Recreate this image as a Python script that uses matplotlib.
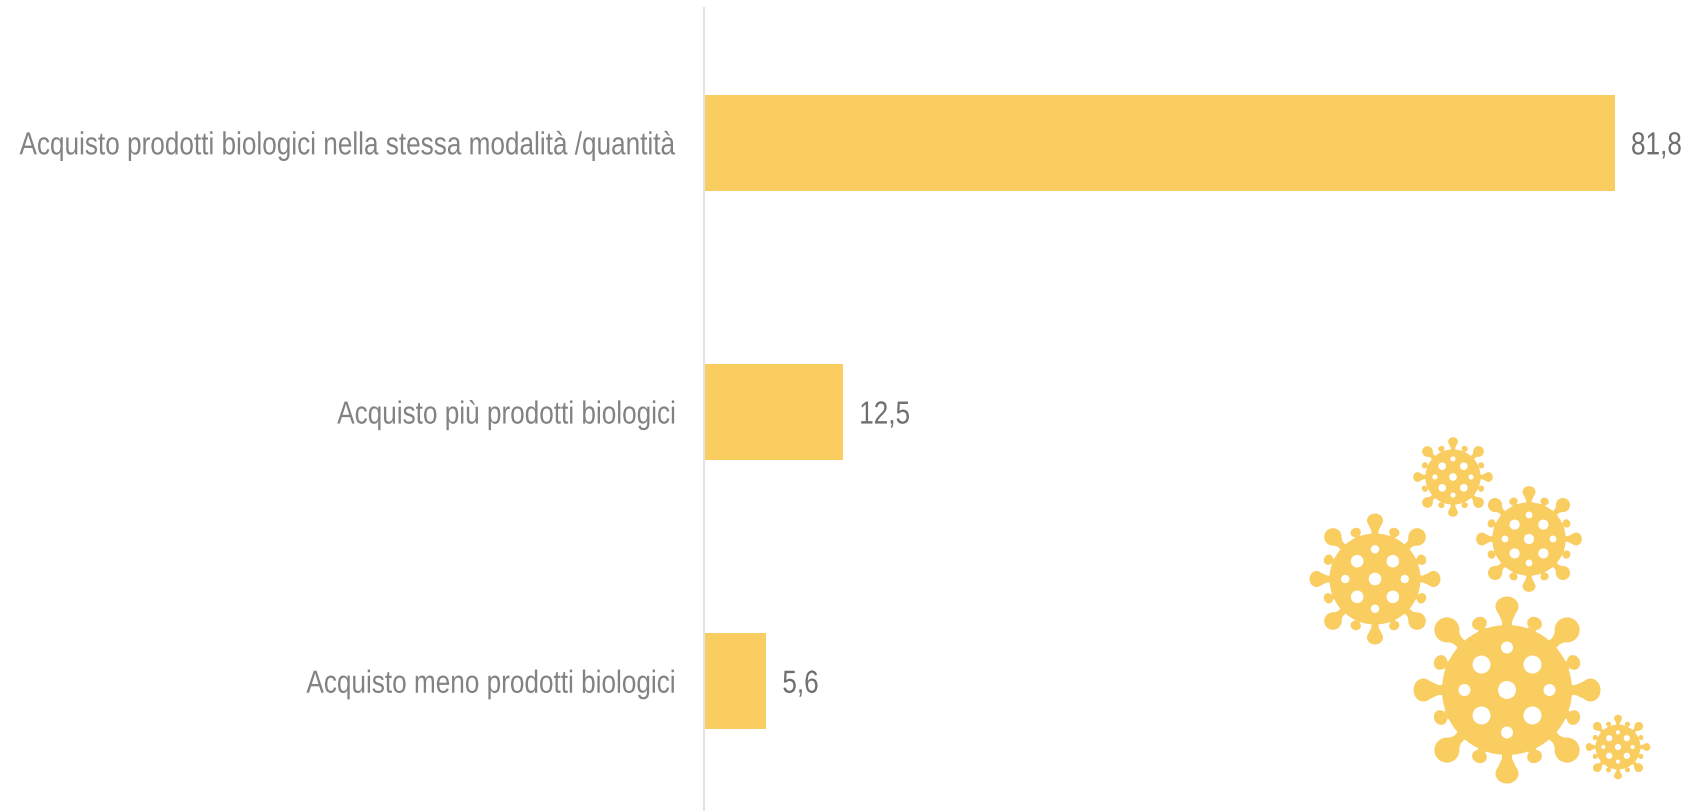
"""Horizontal bars on organic purchases, with virus icons in the corner."""

import math

import matplotlib
matplotlib.use("Agg")
import matplotlib.pyplot as plt
from matplotlib.patches import Circle, Ellipse, Polygon
from matplotlib.patheffects import AbstractPathEffect
from matplotlib.text import Text
from matplotlib.transforms import Affine2D, Bbox

categories = [
    "Acquisto prodotti biologici nella stessa modalità /quantità",
    "Acquisto più prodotti biologici",
    "Acquisto meno prodotti biologici",
]
values = [81.8, 12.5, 5.6]
value_labels = ["81,8", "12,5", "5,6"]

# icon centre x, centre y and scale, in picture pixels
virus_x = [1507, 1375, 1529, 1453, 1618]
virus_y = [691, 580, 540, 478, 748]
virus_scale = [1.0, 0.70, 0.565, 0.425, 0.345]

WIDTH, HEIGHT = 1696, 812
YELLOW = "#F9CD60"
FONT = "Liberation Sans"
NARROW = 0.8186  # the source font is an Arial Narrow look-alike


def narrow_extent(text):
    """Window box of the text once it is squeezed towards its anchor side."""
    box = Text.get_window_extent(text)
    if text.get_ha() == "right":
        return Bbox.from_extents(box.x1 - box.width * NARROW, box.y0, box.x1, box.y1)
    return Bbox.from_extents(box.x0, box.y0, box.x0 + box.width * NARROW, box.y1)


class NarrowGlyphs(AbstractPathEffect):
    """Draw a text with its glyphs squeezed horizontally."""

    def __init__(self, text):
        super().__init__()
        self.text = text

    def draw_path(self, renderer, gc, tpath, affine, rgbFace=None):
        box = Text.get_window_extent(self.text)
        anchor = box.x1 if self.text.get_ha() == "right" else box.x0
        squeeze = Affine2D().translate(-anchor, 0).scale(NARROW, 1).translate(anchor, 0)
        renderer.draw_path(gc, tpath, affine + squeeze, rgbFace)


def make_narrow(text):
    text.set_path_effects([NarrowGlyphs(text)])
    text.get_window_extent = lambda renderer=None, dpi=None: narrow_extent(text)


def draw_spike(axis, cx, cy, angle, scale, kind):
    """Stem plus bulb pointing out of the virus body."""
    ux, uy = math.cos(angle), math.sin(angle)
    px, py = -uy, ux
    stem, flare, tip_r, semi_r, semi_w = {
        "cardinal": (5.0, 9.0, 83.5, 10.0, 11.5),
        "diagonal": (5.0, 9.0, 85.0, 12.5, 12.5),
        "short": (2.5, 4.5, 72.0, 6.5, 7.5),
    }[kind]

    def point(r, w):
        return (cx + scale * (ux * r + px * w), cy + scale * (uy * r + py * w))

    axis.add_patch(Polygon(
        [point(60, -stem), point(tip_r - 15, -stem), point(tip_r - 6, -flare),
         point(tip_r - 6, flare), point(tip_r - 15, stem), point(60, stem)],
        closed=True, facecolor=YELLOW, edgecolor="none",
    ))
    axis.add_patch(Ellipse(
        point(tip_r, 0), 2 * semi_r * scale, 2 * semi_w * scale,
        angle=math.degrees(angle), facecolor=YELLOW, edgecolor="none",
    ))


def draw_virus(axis, cx, cy, scale):
    axis.add_patch(Circle((cx, cy), 65 * scale, facecolor=YELLOW, edgecolor="none"))
    for step in range(16):
        kind = "short" if step % 2 else ("cardinal" if step % 4 == 0 else "diagonal")
        draw_spike(axis, cx, cy, step * math.pi / 8, scale, kind)

    # Holes: centre, ring of four large and four small.
    axis.add_patch(Circle((cx, cy), 9 * scale, facecolor="white", edgecolor="none"))
    for step in range(8):
        angle = step * math.pi / 4
        ring, radius = (42.5, 6.0) if step % 2 == 0 else (36.0, 9.0)
        axis.add_patch(Circle(
            (cx + scale * ring * math.cos(angle), cy + scale * ring * math.sin(angle)),
            radius * scale, facecolor="white", edgecolor="none",
        ))


def main():
    figure = plt.figure(figsize=(WIDTH / 100, HEIGHT / 100), dpi=100)

    # Plot area runs past the bottom edge, as in the source slide.
    left, top, bottom = 704, 9.3, 816.8
    axis = figure.add_axes([
        left / WIDTH,
        (HEIGHT - bottom) / HEIGHT,
        (WIDTH - left) / WIDTH,
        (bottom - top) / HEIGHT,
    ])
    positions = list(range(len(categories)))
    axis.barh(positions, values, height=0.358, color=YELLOW)
    axis.set_xlim(0, (WIDTH - left) / 11.137)
    axis.set_ylim(2.5, -0.5)
    axis.set_xticks([])
    axis.set_yticks(positions)
    tick_labels = axis.set_yticklabels(categories, family=FONT, fontsize=23, color="#828282")
    axis.tick_params(axis="y", length=0, pad=19.8)
    for label in tick_labels:
        make_narrow(label)
    for name in ("top", "right", "bottom"):
        axis.spines[name].set_visible(False)
    axis.spines["left"].set_color("#E3E3E3")
    axis.spines["left"].set_linewidth(1.5)

    for position, value, label in zip(positions, values, value_labels):
        annotation = axis.annotate(
            label, (value, position), xytext=(11.5, 0), textcoords="offset points",
            va="center_baseline", ha="left", family=FONT, fontsize=23, color="#6F6F6F",
        )
        make_narrow(annotation)

    overlay = figure.add_axes([0, 0, 1, 1])
    overlay.set_xlim(0, WIDTH)
    overlay.set_ylim(HEIGHT, 0)
    overlay.axis("off")
    for cx, cy, scale in zip(virus_x, virus_y, virus_scale):
        draw_virus(overlay, cx, cy, scale)

    figure.savefig("out.png", dpi=100, facecolor="white")


if __name__ == "__main__":
    main()
